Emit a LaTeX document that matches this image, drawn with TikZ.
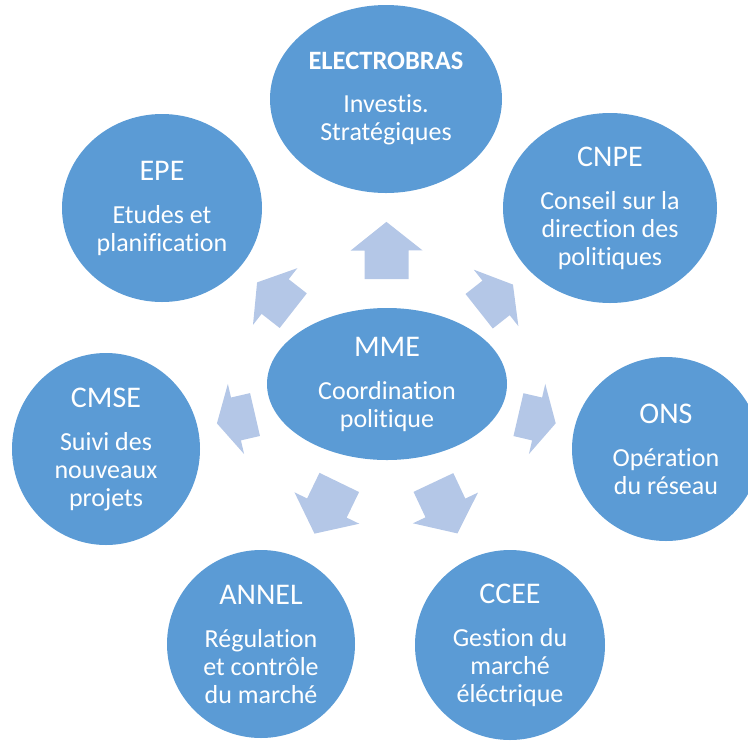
\documentclass[tikz,border=0pt]{standalone}
\usepackage{fontspec}
\setmainfont{Carlito}[Ligatures=NoCommon]
\usepackage{xcolor}
\usetikzlibrary{calc, shapes.geometric}
\definecolor{orgblue}{HTML}{5B9BD5}
\definecolor{flowblue}{HTML}{B4C7E7}
\newcommand{\orgname}[1]{{\fontsize{30}{30}\selectfont #1}\\[15pt]}
\tikzset{
  % Enti (cerchi ed ellissi)
  org/.style={ellipse,fill=orgblue,text=white,align=center,inner sep=0pt,
    font=\fontsize{26}{28}\selectfont},
  org size/.style 2 args={minimum width=#1,minimum height=#2},
  % Frecce a blocco
  flow arrow/.style={fill=flowblue}
}
\begin{document}
\begin{tikzpicture}[x=1pt,y=-1pt]
    \clip (0,0) rectangle (748,740);
    % centro
    \node[org, org size={240pt}{152pt}] (mme) at (387,384) {\orgname{MME}Coordination\\politique};
    % enti attorno
    \node[org, org size={232pt}{188pt}] (elb) at (386,99) {\orgname{\fontsize{26.5}{26.5}\selectfont\bfseries ELECTROBRAS}Investis.\\Stratégiques};
    \node[org, org size={214pt}{190pt}] (cnpe) at (610,208) {\orgname{CNPE}Conseil sur la\\direction des\\politiques};
    \node[org, org size={188pt}{184pt}] (ons) at (666,449) {\orgname{ONS}Opération\\du réseau};
    \node[org, org size={190pt}{190pt}] (ccee) at (510,645) {\orgname{CCEE}Gestion du\\marché\\éléctrique};
    \node[org, org size={188pt}{188pt}] (annel) at (261,644) {\orgname{ANNEL}Régulation\\et contrôle\\du marché};
    \node[org, org size={188pt}{192pt}] (cmse) at (106,449) {\orgname{CMSE}Suivi des\\nouveaux\\projets};
    \node[org, org size={200pt}{188pt}] (epe) at (162,208) {\orgname{EPE}Etudes et\\planification};
    % frecce dal centro
    \foreach \u in {elb,cnpe,ons,ccee,annel,cmse,epe}{
      \path (mme) -- coordinate[pos=0.25] (tail) coordinate[pos=0.5] (neck)
        coordinate[pos=0.75] (tip) (\u);
      \fill[flow arrow] ($(tail)!22pt!90:(tip)$) -- ($(neck)!22pt!90:(tip)$)
        -- ($(neck)!36pt!90:(tip)$) -- (tip) -- ($(neck)!36pt!-90:(tip)$)
        -- ($(neck)!22pt!-90:(tip)$) -- ($(tail)!22pt!-90:(tip)$) -- cycle;
    }
\end{tikzpicture}
\end{document}
